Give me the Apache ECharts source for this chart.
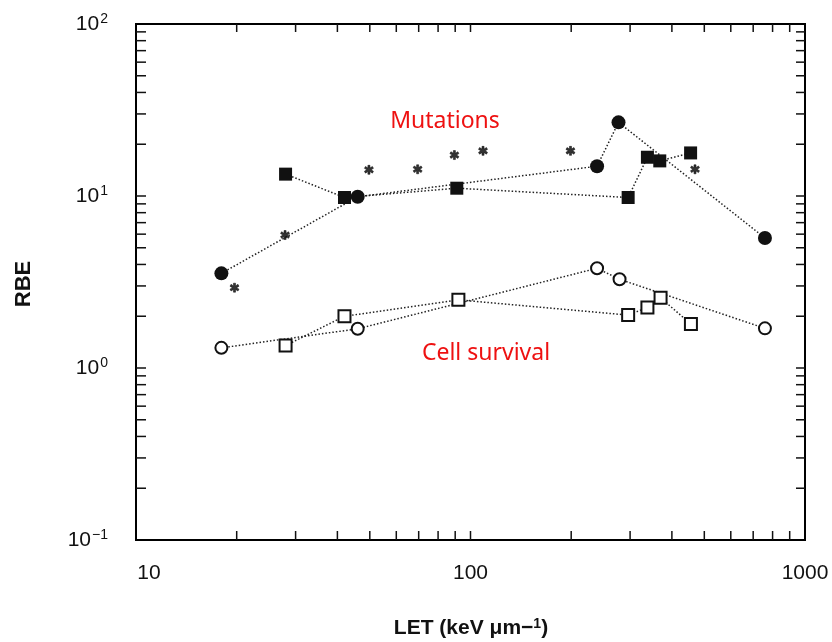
<!DOCTYPE html>
<html><head><meta charset="utf-8">
<script src="https://cdn.jsdelivr.net/npm/echarts@6/dist/echarts.min.js"></script>
<style>html,body{margin:0;padding:0;background:#fff}#c{width:832px;height:642px}</style>
</head><body><div id="c"></div>
<script>
// Data (LET keV/um, RBE)
const filledCircleX = [18, 46, 239, 277, 759];
const filledCircleY = [3.55, 9.9, 14.9, 26.8, 5.7];
const filledSquareX = [28, 42, 91, 296, 338, 368, 455];
const filledSquareY = [13.4, 9.8, 11.1, 9.8, 16.8, 16.0, 17.8];
const asteriskX = [19.7, 27.9, 49.7, 69.5, 89.5, 109, 199, 469];
const asteriskY = [2.93, 5.93, 14.2, 14.3, 17.3, 18.3, 18.3, 14.3];
const openCircleX = [18, 46, 239, 279, 759];
const openCircleY = [1.31, 1.69, 3.8, 3.28, 1.7];
const openSquareX = [28, 42, 92, 296, 338, 370, 456];
const openSquareY = [1.35, 2.0, 2.49, 2.03, 2.25, 2.56, 1.80];
const xTickValues = [20,30,40,50,60,70,80,90,100,200,300,400,500,600,700,800,900];
const yTickValues = [0.2,0.3,0.4,0.5,0.6,0.7,0.8,0.9,1,2,3,4,5,6,7,8,9,10,20,30,40,50,60,70,80,90];
const xLabels = {10:'10', 100:'100', 1000:'1000'};
const annotations = ['Mutations', 'Cell survival'];

const zip = (xs, ys) => xs.map((x, i) => [x, ys[i]]);
const asteriskPath = 'path://M3.8,0 L6.2,0 L6.2,3 L9,1.3 L10.2,3.4 L7.4,5 L10.2,6.6 L9,8.7 L6.2,7 L6.2,10 L3.8,10 L3.8,7 L1,8.7 L-0.2,6.6 L2.6,5 L-0.2,3.4 L1,1.3 L3.8,3 Z';
const dotted = {color:'#222', width:1.5, type:[1.5,2]};

const chart = echarts.init(document.getElementById('c'));
chart.setOption({
  animation:false,
  backgroundColor:'#fff',
  grid:{left:136, right:27, top:24, bottom:102, show:true, borderColor:'#000', borderWidth:2, backgroundColor:'transparent'},
  xAxis:{type:'log', logBase:10, min:10, max:1000,
    axisLine:{show:false}, axisTick:{show:false}, splitLine:{show:false},
    axisLabel:{margin:23, color:'#111',
      formatter:v => { const k = Math.round(v); return k === 10 ? '{m|10}' : '{n|' + (xLabels[k] || '') + '}'; },
      rich:{m:{fontFamily:'Liberation Sans', fontSize:21, color:'#111', padding:[0,0,0,26]},
            n:{fontFamily:'Liberation Sans', fontSize:21, color:'#111'}}}},
  yAxis:{type:'log', logBase:10, min:0.1, max:100,
    axisLine:{show:false}, axisTick:{show:false}, splitLine:{show:false},
    axisLabel:{margin:28, color:'#111',
      formatter:v => { const e = Math.round(Math.log10(v)); return '{b|10}{s|' + (e < 0 ? '\u2212' + (-e) : e) + '}'; },
      rich:{b:{fontFamily:'Liberation Sans', fontSize:21, color:'#111'},
            s:{fontFamily:'Liberation Sans', fontSize:14, color:'#111', verticalAlign:'top', padding:[0,0,9,1]}}}},
  graphic:[
    {type:'text', x:445, y:121, style:{text:annotations[0], fill:'#ee1111', font:'23px "Noto Sans"', align:'center', verticalAlign:'middle'}},
    {type:'text', x:486, y:353, style:{text:annotations[1], fill:'#ee1111', font:'23px "Noto Sans"', align:'center', verticalAlign:'middle'}},
    {type:'text', x:24, y:284, rotation:Math.PI/2, style:{text:'RBE', fill:'#111', font:'bold 22px "Liberation Sans"', align:'center', verticalAlign:'middle'}},
    {type:'text', x:471, y:628, style:{rich:{n:{fontFamily:'Liberation Sans', fontWeight:'bold', fontSize:21, fill:'#111'}, s:{fontFamily:'Liberation Sans', fontWeight:'bold', fontSize:14, fill:'#111', verticalAlign:'top', padding:[0,0,8,0]}},
      text:'{n|LET (keV \u03bcm\u2212}{s|1}{n|)}', align:'center', verticalAlign:'middle'}}
  ],
  series:[
    {type:'custom', silent:true, clip:false, z:1,
      data:xTickValues.map(v => [v, 0.1]),
      renderItem:(params, api) => {
        const v = api.value(0);
        const b = api.coord([v, 0.1]), t = api.coord([v, 100]);
        return {type:'group', children:[
          {type:'line', shape:{x1:b[0], y1:b[1], x2:b[0], y2:b[1]-9}, style:{stroke:'#111', lineWidth:1.5}},
          {type:'line', shape:{x1:t[0], y1:t[1], x2:t[0], y2:t[1]+8}, style:{stroke:'#111', lineWidth:1.5}}]};
      }},
    {type:'custom', silent:true, clip:false, z:1,
      data:yTickValues.map(v => [10, v]),
      renderItem:(params, api) => {
        const v = api.value(1);
        const l = api.coord([10, v]), r = api.coord([1000, v]);
        return {type:'group', children:[
          {type:'line', shape:{x1:l[0], y1:l[1], x2:l[0]+10, y2:l[1]}, style:{stroke:'#111', lineWidth:1.5}},
          {type:'line', shape:{x1:r[0], y1:r[1], x2:r[0]-9, y2:r[1]}, style:{stroke:'#111', lineWidth:1.5}}]};
      }},
    {name:'filled circle', type:'line', data:zip(filledCircleX, filledCircleY), symbol:'circle', symbolSize:14,
      itemStyle:{color:'#111'}, lineStyle:dotted, z:3},
    {name:'filled square', type:'line', data:zip(filledSquareX, filledSquareY), symbol:'rect', symbolSize:13,
      itemStyle:{color:'#111'}, lineStyle:dotted, z:3},
    {name:'asterisk', type:'scatter', data:zip(asteriskX, asteriskY), symbol:asteriskPath, symbolSize:9,
      itemStyle:{color:'#000', borderColor:'#000', borderWidth:0.6}, z:4},
    {name:'open circle', type:'line', data:zip(openCircleX, openCircleY), symbol:'circle', symbolSize:12,
      itemStyle:{color:'#fff', borderColor:'#111', borderWidth:2}, lineStyle:dotted, z:3},
    {name:'open square', type:'line', data:zip(openSquareX, openSquareY), symbol:'rect', symbolSize:12,
      itemStyle:{color:'#fff', borderColor:'#111', borderWidth:2}, lineStyle:dotted, z:3}
  ]
});
</script></body></html>
